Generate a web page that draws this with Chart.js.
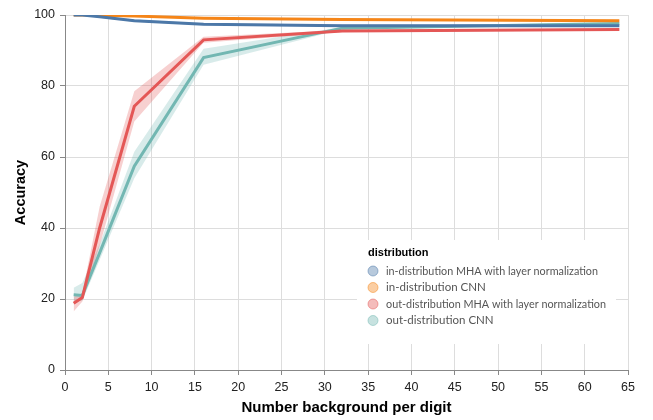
<!DOCTYPE html>
<html lang="en">
<head>
<meta charset="utf-8">
<script src="https://cdn.jsdelivr.net/npm/chart.js@4"></script>
<title>Accuracy vs number background per digit</title>
<style>
  html, body { margin: 0; padding: 0; background: #fff; }
  #myChart { display: block; }
</style>
</head>
<body>
<canvas id="myChart" width="653" height="420"></canvas>
<script>
// number of background items per digit
const xs = [1, 2, 4, 8, 16, 32, 64];

const labels = [
  'in-distribution MHA with layer normalization',
  'in-distribution CNN',
  'out-distribution MHA with layer normalization',
  'out-distribution CNN'
];

// mean accuracy (%)
const inMha   = [100, 100, 99.5, 98.4, 97.4, 97.0, 97.0];
const inCnn   = [100, 100, 99.9, 99.7, 99.1, 98.7, 98.4];
const outMha  = [18.8, 20.4, 40, 74.3, 93.0, 95.5, 95.9];
const outCnn  = [21.2, 21.0, 33, 57.4, 88.0, 96.3, 97.6];

// confidence band (low / high)
const inMhaLo  = [99.8, 99.8, 99.2, 98.1, 97.1, 96.7, 96.7];
const inMhaHi  = [100, 100, 99.8, 98.7, 97.7, 97.3, 97.3];
const inCnnLo  = [99.8, 99.8, 99.7, 99.5, 98.9, 98.5, 98.2];
const inCnnHi  = [100, 100, 100, 99.9, 99.3, 98.9, 98.6];
const outMhaLo = [16.5, 19.3, 35, 70, 92.2, 95.2, 95.6];
const outMhaHi = [20.6, 21.6, 46, 78.5, 93.9, 95.8, 96.2];
const outCnnLo = [19.4, 19.5, 31, 54, 86, 96.0, 97.3];
const outCnnHi = [23.2, 24.5, 35.5, 61.5, 90.5, 96.6, 97.9];

const colors = ['#4c78a8', '#f58518', '#e45756', '#72b7b2'];

function pts(arr) {
  return arr.map((v, i) => ({x: xs[i], y: v}));
}
function alpha(hex, a) {
  const n = parseInt(hex.slice(1), 16);
  return `rgba(${n >> 16},${(n >> 8) & 255},${n & 255},${a})`;
}

const means = [inMha, inCnn, outMha, outCnn];
const los = [inMhaLo, inCnnLo, outMhaLo, outCnnLo];
const his = [inMhaHi, inCnnHi, outMhaHi, outCnnHi];

let datasets = [];
for (let i = 0; i < 4; i++) {
  datasets.push({
    label: labels[i],
    data: pts(means[i]),
    borderColor: colors[i],
    borderWidth: 3,
    pointRadius: 0,
    fill: false,
    order: i + 1
  });
}
for (let i = 0; i < 4; i++) {
  datasets.push({
    label: labels[i] + ' hi',
    data: pts(his[i]),
    borderWidth: 0,
    borderColor: 'rgba(0,0,0,0)',
    backgroundColor: alpha(colors[i], 0.28),
    pointRadius: 0,
    fill: '+1',
    order: 20
  });
  datasets.push({
    label: labels[i] + ' lo',
    data: pts(los[i]),
    borderWidth: 0,
    borderColor: 'rgba(0,0,0,0)',
    pointRadius: 0,
    fill: false,
    order: 20
  });
}

// legend inside the plot, bottom right
const boxLegend = {
  id: 'boxLegend',
  afterDraw(chart) {
    const c = chart.ctx;
    c.save();
    c.fillStyle = '#fff';
    c.fillRect(357, 240, 259, 104);
    c.fillStyle = '#000';
    c.font = 'bold 11px "Liberation Sans"';
    c.textBaseline = 'middle';
    c.textAlign = 'left';
    c.fillText('distribution', 368, 253);
    c.font = '11.5px Lato';
    for (let i = 0; i < 4; i++) {
      const y = 271 + i * 16.5;
      c.beginPath();
      c.arc(373, y, 5, 0, Math.PI * 2);
      c.fillStyle = alpha(colors[i], 0.4);
      c.fill();
      c.strokeStyle = alpha(colors[i], 0.5);
      c.lineWidth = 1;
      c.stroke();
      c.fillStyle = '#555';
      const w = i == 2 ? 220 : i == 0 ? 212 : undefined;
      if (w)
        c.fillText(labels[i], 386, y, w);
      else
        c.fillText(labels[i], 386, y);
    }
    c.restore();
  }
};

const ctx = document.getElementById('myChart');
new Chart(ctx, {
  type: 'line',
  data: { datasets: datasets },
  options: {
    responsive: false,
    animation: false,
    devicePixelRatio: 1,
    layout: { padding: { top: 15, right: 25, left: 0, bottom: 0 } },
    plugins: {
      legend: { display: false },
      tooltip: { enabled: false },
      filler: { propagate: false }
    },
    scales: {
      x: {
        type: 'linear',
        min: 0,
        max: 65,
        afterFit: s => { s.height = 50; },
        ticks: {
          stepSize: 5,
          padding: 5,
          maxRotation: 0,
          color: '#222',
          font: { family: '"Liberation Sans"', size: 12.5 }
        },
        grid: { color: '#ddd', tickColor: '#888', tickLength: 5 },
        border: { color: '#888', width: 1 },
        title: {
          display: true,
          text: 'Number background per digit',
          color: '#000',
          padding: { top: 2, bottom: 3 },
          font: { family: '"Liberation Sans"', size: 15, weight: 'bold' }
        }
      },
      y: {
        min: 0,
        max: 100,
        afterFit: s => { s.width = 65; },
        ticks: {
          stepSize: 20,
          padding: 5,
          color: '#222',
          font: { family: '"Liberation Sans"', size: 12.5 }
        },
        grid: { color: '#ddd', tickColor: '#888', tickLength: 5 },
        border: { color: '#888', width: 1 },
        title: {
          display: true,
          text: 'Accuracy',
          color: '#000',
          padding: { top: 12, bottom: 4 },
          font: { family: '"Liberation Sans"', size: 14.5, weight: 'bold' }
        }
      }
    }
  },
  plugins: [boxLegend]
});
</script>
</body>
</html>
